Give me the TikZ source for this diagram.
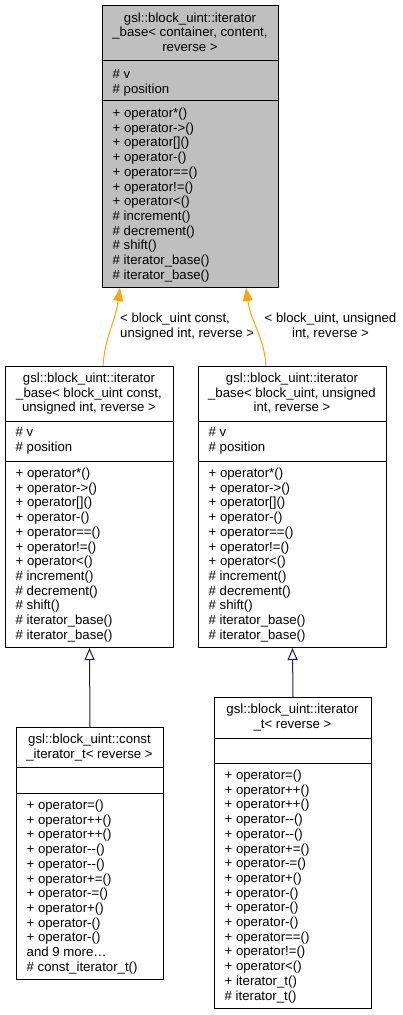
\documentclass[tikz,border=0pt]{standalone}
\usepackage{fontspec}
\setmainfont{Liberation Sans}
\usetikzlibrary{arrows.meta,calc}
\definecolor{boxgray}{HTML}{BFBFBF}
\definecolor{edgeorange}{HTML}{FFA500}
\definecolor{edgenavy}{HTML}{191970}
\tikzset{
  classbox/.style={draw=black, line width=1pt, rectangle, inner sep=0pt, anchor=north west},
  txt/.style={inner sep=0pt, font=\fontsize{13.2}{14.7}\selectfont},
  mline/.style={txt, anchor=base west},
  tline/.style={txt, anchor=base},
  sepline/.style={draw=black, line width=1pt},
  specedge/.style={draw=edgeorange, line width=1pt, -{Triangle[length=13pt,width=10pt]}},
  inhedge/.style={draw=edgenavy, line width=1pt, -{Triangle[open,length=12pt,width=10pt,fill=white]}}
}
\newcommand\SecLines[5]{%
  \foreach \t [count=\i from 0] in {#5} {\node[#4] (#1-\i) at (#2, #3+\i*14.7) {\t};}%
}
\begin{document}
\begin{tikzpicture}[x=1pt,y=-1pt]
\useasboundingbox (0,0) rectangle (403,1015);

% ---------- top box ----------
\node[classbox, fill=boxgray, minimum width=176pt, minimum height=282pt] (top) at (102,5) {};
\draw[sepline] ($(top.north west)+(0,55)$) -- ($(top.north east)+(0,55)$);
\draw[sepline] ($(top.north west)+(0,95)$) -- ($(top.north east)+(0,95)$);
\SecLines{topT}{190}{22}{tline}{gsl::block\_uint::iterator, {\_base< container, content,}, reverse >}
\SecLines{topA}{112.5}{78.5}{mline}{\# v, \# position}
\SecLines{topM}{112.5}{117.5}{mline}{+ operator*(), + operator->(), + operator[](), + operator-(), + operator==(), + operator!=(), + operator<(), \# increment(), \# decrement(), \# shift(), \# iterator\_base(), \# iterator\_base()}

% ---------- middle left ----------
\node[classbox, minimum width=168pt, minimum height=281pt] (midL) at (5,366) {};
\draw[sepline] ($(midL.north west)+(0,55)$) -- ($(midL.north east)+(0,55)$);
\draw[sepline] ($(midL.north west)+(0,95)$) -- ($(midL.north east)+(0,95)$);
\SecLines{midLT}{89}{382.5}{tline}{gsl::block\_uint::iterator, {\_base< block\_uint const,}, {unsigned int, reverse >}}
\SecLines{midLA}{15.5}{436.5}{mline}{\# v, \# position}
\SecLines{midLM}{15.5}{477.5}{mline}{+ operator*(), + operator->(), + operator[](), + operator-(), + operator==(), + operator!=(), + operator<(), \# increment(), \# decrement(), \# shift(), \# iterator\_base(), \# iterator\_base()}

% ---------- middle right ----------
\node[classbox, minimum width=188pt, minimum height=281pt] (midR) at (198,366) {};
\draw[sepline] ($(midR.north west)+(0,55)$) -- ($(midR.north east)+(0,55)$);
\draw[sepline] ($(midR.north west)+(0,95)$) -- ($(midR.north east)+(0,95)$);
\SecLines{midRT}{292}{382.5}{tline}{gsl::block\_uint::iterator, {\_base< block\_uint, unsigned}, {int, reverse >}}
\SecLines{midRA}{208.5}{436.5}{mline}{\# v, \# position}
\SecLines{midRM}{208.5}{477.5}{mline}{+ operator*(), + operator->(), + operator[](), + operator-(), + operator==(), + operator!=(), + operator<(), \# increment(), \# decrement(), \# shift(), \# iterator\_base(), \# iterator\_base()}

% ---------- bottom left ----------
\node[classbox, minimum width=147pt, minimum height=252pt] (botL) at (16,727) {};
\draw[sepline] ($(botL.north west)+(0,40)$) -- ($(botL.north east)+(0,40)$);
\draw[sepline] ($(botL.north west)+(0,66)$) -- ($(botL.north east)+(0,66)$);
\SecLines{botLT}{89.5}{743.5}{tline}{gsl::block\_uint::const, \_iterator\_t< reverse >}
\SecLines{botLM}{26.5}{809.5}{mline}{+ operator=(), + operator++(), + operator++(), + operator-{}-(), + operator-{}-(), + operator+=(), + operator-=(), + operator+(), + operator-(), + operator-(), and 9 more…, \# const\_iterator\_t()}

% ---------- bottom right ----------
\node[classbox, minimum width=157pt, minimum height=311pt] (botR) at (214,697) {};
\draw[sepline] ($(botR.north west)+(0,41)$) -- ($(botR.north east)+(0,41)$);
\draw[sepline] ($(botR.north west)+(0,66)$) -- ($(botR.north east)+(0,66)$);
\SecLines{botRT}{292.5}{713.5}{tline}{gsl::block\_uint::iterator, \_t< reverse >}
\SecLines{botRM}{224.5}{779.5}{mline}{+ operator=(), + operator++(), + operator++(), + operator-{}-(), + operator-{}-(), + operator+=(), + operator-=(), + operator+(), + operator-(), + operator-(), + operator-(), + operator==(), + operator!=(), + operator<(), + iterator\_t(), \# iterator\_t()}

% ---------- edges ----------
\coordinate (eLs) at ($(midL.north west)+(98,0)$);
\coordinate (eLe) at ($(top.south west)+(18,0)$);
\coordinate (eRs) at ($(midR.north west)+(68,0)$);
\coordinate (eRe) at ($(top.south west)+(144,0)$);
\draw[specedge] (eLs) .. controls +(2,-30) and +(-5,35) .. (eLe);
\draw[specedge] (eRs) .. controls +(-2,-30) and +(5,35) .. (eRe);
\node[mline] (lblL1) at (120,322.5) {< block\_uint const,};
\node[mline] (lblL2) at (120,337) {unsigned int, reverse >};
\node[tline] (lblR1) at (330.5,322.5) {< block\_uint, unsigned};
\node[tline] (lblR2) at (330.5,337) {int, reverse >};

\draw[inhedge] (botL.north) -- (midL.south);
\draw[inhedge] (botR.north) -- (midR.south);
\end{tikzpicture}
\end{document}
